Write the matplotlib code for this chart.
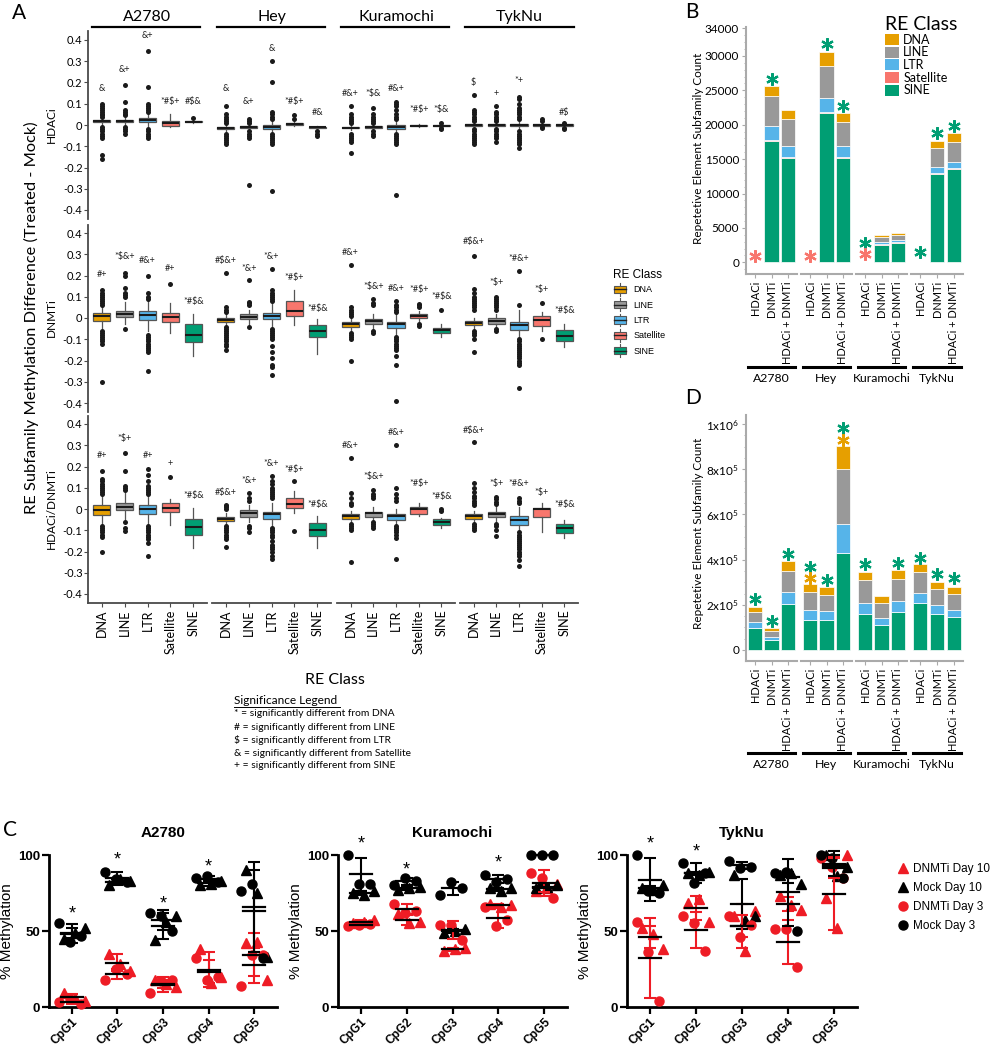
import numpy as np
import matplotlib
matplotlib.use('Agg')
import matplotlib.pyplot as plt
import matplotlib.transforms as mtrans
from matplotlib.patches import Patch, Rectangle
from matplotlib.lines import Line2D
from matplotlib.legend_handler import HandlerBase
from matplotlib.ticker import MultipleLocator

plt.rcParams['font.family'] = ['Lato', 'DejaVu Sans']
plt.rcParams['mathtext.default'] = 'regular'

# ---------------- shared labels ----------------
cell_lines = ['A2780', 'Hey', 'Kuramochi', 'TykNu']
re_classes = ['DNA', 'LINE', 'LTR', 'Satellite', 'SINE']
re_colors = ['#E69F00', '#999999', '#56B4E9', '#F8766D', '#009E73']
row_names = ['HDACi', 'DNMTi', 'HDACi/DNMTi']

# ---------------- panel A: box stats [cell line][RE class] ----------------
# HDACi row
hd_med = [[.018, .02, .022, .01, .015], [-.015, -.01, -.01, .005, -.01],
          [-.012, -.01, -.01, -.004, -.004], [0, 0, 0, 0, 0]]
hd_q1 = [[.012, .015, .012, -.005, .012], [-.02, -.013, -.018, .002, -.012],
         [-.016, -.013, -.018, -.007, -.006], [-.004, -.004, -.004, -.003, -.003]]
hd_q3 = [[.025, .025, .032, .02, .018], [-.01, -.007, -.002, .008, -.008],
         [-.008, -.007, -.002, -.001, -.002], [.004, .004, .004, .003, .003]]
hd_lo = [[0, .005, -.005, -.01, .01], [-.03, -.02, -.03, -.005, -.018],
         [-.025, -.02, -.03, -.01, -.01], [-.01, -.01, -.015, -.008, -.008]]
hd_hi = [[.035, .035, .05, .05, .025], [0, 0, .015, .015, -.003],
         [0, 0, .015, .005, .002], [.01, .01, .015, .008, .008]]
hd_out = [
    [[.1, .09, .08, .07, .06, .05, .045, .04, -.01, -.02, -.03, -.04, -.05, -.06, -.14, -.16],
     [.19, .11, .07, .06, .05, .045, -.01, -.02, -.03, -.04],
     [.35, .18, .1, .09, .08, .07, .06, -.02, -.03, -.04, -.05, -.06],
     [],
     [.035]],
    [[.09, .05, .04, .03, .02, .01, -.04, -.05, -.06, -.07, -.08, -.09],
     [.03, .02, .01, -.03, -.04, -.05, -.06, -.28],
     [.3, .2, .06, .05, .04, .03, -.04, -.05, -.06, -.07, -.08, -.09, -.31],
     [.045, .03],
     [-.03, -.04, -.05]],
    [[.09, .05, .04, .03, .02, .01, -.04, -.05, -.06, -.07, -.08, -.13],
     [.08, .05, .04, .03, .02, .01, -.03, -.04, -.05],
     [.11, .1, .09, .07, .05, .04, .03, -.04, -.05, -.06, -.07, -.08, -.09, -.33],
     [],
     [.01, -.015, -.02]],
    [[.14, .07, .06, .05, .04, .03, .02, -.02, -.03, -.04, -.05, -.06, -.07, -.08, -.09],
     [.09, .06, .05, .04, .03, .02, -.02, -.03, -.04, -.05, -.06, -.08],
     [.13, .12, .1, .08, .07, .06, .05, .04, .03, -.03, -.04, -.05, -.06, -.07, -.08, -.09, -.11],
     [.03, .02, -.01, -.015],
     [.01, -.015, -.02]],
]
hd_sig = [['&', '&+', '&+', '*#$+', '#$&'], ['&', '&+', '&', '*#$+', '#&'],
          ['#&+', '*$&', '#&+', '*#$+', '*$&'], ['$', '+', '*+', '', '#$']]
hd_sig_y = [[.17, .26, .42, .11, .11], [.17, .11, .36, .11, .06],
            [.15, .15, .17, .075, .075], [.2, .15, .21, 0, .06]]

# DNMTi row
dn_med = [[.01, .02, .015, .005, -.08], [-.01, .005, .01, .035, -.06],
          [-.03, -.015, -.03, .01, -.055], [-.025, -.012, -.035, -.01, -.085]]
dn_q1 = [[-.012, .005, -.01, -.02, -.115], [-.02, -.005, -.005, .01, -.09],
         [-.042, -.03, -.045, 0, -.07], [-.035, -.027, -.058, -.037, -.108]]
dn_q3 = [[.024, .035, .035, .025, -.03], [0, .02, .025, .08, -.035],
         [-.019, -.006, -.019, .02, -.045], [-.014, 0, -.017, .01, -.058]]
dn_lo = [[-.045, -.03, -.06, -.07, -.18], [-.035, -.03, -.045, -.035, -.17],
         [-.06, -.05, -.08, -.015, -.09], [-.05, -.04, -.09, -.06, -.135]]
dn_hi = [[.05, .075, .085, .07, .02], [.02, .04, .07, .13, -.005],
         [0, .02, .02, .035, -.03], [0, .02, .04, .03, -.03]]
dn_out = [
    [[.13, .12, .11, .1, .09, .08, .07, .06, -.06, -.07, -.08, -.09, -.1, -.11, -.12, -.3],
     [.21, .2, .14, .12, .11, .1, -.05],
     [.2, .12, .1, .09, -.08, -.09, -.1, -.11, -.12, -.13, -.14, -.15, -.16, -.25],
     [.16],
     []],
    [[.21, .05, .04, .03, -.04, -.05, -.06, -.07, -.08, -.09, -.1, -.11, -.12, -.13, -.15],
     [.18, .075, .07, .06, -.04],
     [.23, .13, .12, .11, .1, .09, .08, -.05, -.06, -.07, -.08, -.09, -.1, -.13, -.16, -.19, -.22, -.23, -.27],
     [],
     []],
    [[.25, .05, .04, .03, .02, .01, -.07, -.08, -.09, -.1, -.2],
     [.09, .07, .06, -.06, -.07],
     [.08, .06, .05, .04, .03, -.09, -.1, -.11, -.12, -.13, -.14, -.15, -.18, -.22, -.39],
     [.065, .06, .05, -.03, -.037],
     [.04]],
    [[.29, .135, .12, .1, .09, .08, .07, .06, .05, .04, -.06, -.07, -.08, -.1, -.16],
     [.1, .09, .08, .07, .06, .05, .04, -.05, -.06],
     [.22, .06, -.1, -.11, -.12, -.13, -.14, -.15, -.16, -.17, -.18, -.19, -.2, -.21, -.22, -.33],
     [.072, -.1],
     []],
]
dn_sig = [['#+', '*$&+', '#&+', '#+', '*#$&'], ['#$&+', '*&+', '*&+', '*#$+', '*#$&'],
          ['#&+', '*$&+', '#&+', '*#$+', '*#$&'], ['#$&+', '*$+', '*#&+', '*$+', '*#$&']]
dn_sig_y = [[.205, .29, .27, .235, .077], [.27, .235, .29, .19, .045],
            [.31, .15, .14, .135, .1], [.36, .165, .28, .135, .033]]

# HDACi/DNMTi row
co_med = [[-.005, .01, 0, .005, -.085], [-.045, -.02, -.025, .025, -.1],
          [-.035, -.02, -.035, -.002, -.06], [-.035, -.025, -.05, -.002, -.09]]
co_q1 = [[-.028, -.005, -.025, -.015, -.121], [-.058, -.038, -.048, .003, -.127],
         [-.048, -.036, -.05, -.024, -.075], [-.048, -.038, -.075, -.036, -.115]]
co_q3 = [[.02, .027, .02, .027, -.047], [-.036, -.005, -.012, .05, -.068],
         [-.025, -.013, -.025, .008, -.048], [-.025, -.012, -.033, .006, -.07]]
co_lo = [[-.07, -.045, -.07, -.075, -.185], [-.07, -.06, -.08, -.02, -.185],
         [-.06, -.05, -.07, -.035, -.09], [-.06, -.055, -.1, -.107, -.135]]
co_hi = [[.06, .075, .06, .045, .005], [-.02, .02, .03, .085, -.035],
         [-.01, .01, 0, .03, -.04], [-.01, .01, .01, .03, -.05]]
co_out = [
    [[.18, .14, .13, .12, .11, .1, .09, .08, .07, -.08, -.09, -.1, -.11, -.12, -.13, -.2],
     [.265, .18, .11, .1, .09, -.06, -.09, -.105],
     [.19, .16, .13, .11, .1, .09, .08, .07, -.08, -.09, -.1, -.11, -.12, -.13, -.14, -.16, -.22],
     [.15],
     []],
    [[.02, .015, .01, 0, -.08, -.09, -.1, -.11, -.12, -.13, -.14, -.18],
     [.075, .05, .04, -.08, -.09, -.11],
     [.155, .13, .12, .1, .09, .08, .07, .06, .05, -.09, -.1, -.11, -.12, -.13, -.15, -.17, -.18, -.19, -.2, -.22, -.235],
     [.13, -.105],
     []],
    [[.24, .077, .05, .03, .02, -.07, -.08, -.09, -.1, -.25],
     [.09, .07, .06, .05, -.06, -.07, -.08, -.09],
     [.3, .1, .07, .05, .04, -.08, -.09, -.1, -.11, -.12, -.137, -.235],
     [],
     [0, -.01]],
    [[.317, .124, .1, .08, .06, .05, .04, .03, .02, -.07, -.08, -.09, -.1],
     [.058, .045, .035, .025, -.07, -.08, -.1, -.126],
     [.05, .04, .03, -.11, -.12, -.13, -.14, -.15, -.16, -.17, -.18, -.19, -.2, -.21, -.22, -.24, -.27],
     [],
     []],
]
co_sig = [['#+', '*$+', '#+', '+', '*#$&'], ['#$&+', '*&+', '*&+', '*#$+', '*#$&'],
          ['#&+', '*$&+', '#&+', '*#$+', '*#$&'], ['#$&+', '*$+', '*#&+', '*$+', '*#$&']]
co_sig_y = [[.25, .333, .25, .215, .062], [.08, .133, .216, .187, .02],
            [.3, .152, .36, .12, .058], [.37, .12, .12, .08, .02]]

# ---------------- panels B and D: subfamily counts (cell line x treatment) ----------------
treatments = ['HDACi', 'DNMTi', 'HDACi + DNMTi']
b_sine = [60, 17600, 15100, 40, 21650, 15200, 60, 2550, 2850, 50, 12850, 13580]
b_sat = [0, 150, 150, 0, 140, 140, 0, 50, 50, 0, 80, 80]
b_ltr = [0, 2100, 1700, 0, 2130, 1560, 0, 300, 340, 0, 870, 870]
b_line = [0, 4270, 3880, 0, 4650, 3440, 0, 730, 730, 0, 2760, 2900]
b_dna = [0, 1540, 1310, 0, 2030, 1400, 0, 340, 300, 0, 1070, 1310]
b_star_bar = [0, 1, 3, 4, 5, 6, 6, 9, 10, 11]
b_star_y = [900, 26700, 900, 31800, 22700, 2800, 1200, 1500, 18800, 19800]
b_star_cls = ['Satellite', 'SINE', 'Satellite', 'SINE', 'SINE', 'SINE', 'Satellite', 'SINE', 'SINE', 'SINE']

d_sine = [98000, 44000, 203000, 133000, 133000, 428000, 159000, 110000, 167000, 209000, 159000, 147000]
d_sat = [1000, 500, 2000, 1000, 1000, 3000, 1000, 1000, 1000, 1000, 1000, 1000]
d_ltr = [26000, 15000, 51000, 41000, 37000, 128000, 50000, 32000, 50000, 42000, 37000, 30000]
d_line = [44000, 26000, 95000, 81000, 74000, 244000, 98000, 64000, 97000, 91000, 72000, 69000]
d_dna = [22000, 11000, 42000, 37000, 33000, 100000, 39000, 30000, 40000, 38000, 31000, 30000]
d_star_bar = [0, 1, 2, 3, 3, 4, 5, 5, 6, 8, 9, 10, 11]
d_star_y = [225000, 130000, 425000, 369000, 320000, 310000, 981000, 929000, 380000, 383000, 408000, 336000, 317000]
d_star_cls = ['SINE', 'SINE', 'SINE', 'SINE', 'DNA', 'SINE', 'SINE', 'DNA', 'SINE', 'SINE', 'SINE', 'SINE', 'SINE']

# ---------------- panel C: % methylation, [CpG1..CpG5][replicate] ----------------
cpg_sites = ['CpG1', 'CpG2', 'CpG3', 'CpG4', 'CpG5']
a2780_dnmti_d10 = [[9, 6, 4], [35, 28, 24], [18, 15, 13], [38, 16, 20], [42, 43, 18]]
a2780_mock_d10 = [[45, 49, 52], [80, 84, 83], [44, 56, 60], [80, 81, 83], [90, 75, 33]]
a2780_dnmti_d3 = [[3, 5, 2], [18, 25, 22], [9, 17, 18], [32, 18, 20], [14, 34, 34]]
a2780_mock_d3 = [[55, 43, 47], [89, 84, 82], [62, 60, 50], [85, 86, 82], [76, 81, 32]]
kura_dnmti_d10 = [[55, 56, 57], [61, 55, 56], [37, 38, 39], [68, 66, 67], [76, 78, 81]]
kura_mock_d10 = [[75, 74, 76], [77, 78, 79], [49, 50, 51], [78, 76, 78], [78, 79, 80]]
kura_dnmti_d3 = [[53, 54, 54.5], [68, 62, 63], [54, 54, 44], [66, 53, 57], [88, 85, 72]]
kura_mock_d3 = [[100, 81, 81], [80, 85, 83], [74, 82, 78], [87, 82, 84], [100, 100, 100]]
tyk_dnmti_d10 = [[52, 48, 38], [68.5, 71, 56], [60, 37, 63], [73, 67, 64], [72, 52, 100]]
tyk_mock_d10 = [[78, 77, 80], [88, 87, 89], [87, 57, 60], [87, 88, 81], [100, 86, 92]]
tyk_dnmti_d3 = [[56, 36, 4], [60, 55, 37], [60, 46, 54], [51, 51, 26], [98, 92, 85]]
tyk_mock_d3 = [[100, 76, 75], [94.6, 81.5, 88], [96, 91.7, 92.4], [88, 88.5, 50], [100, 98, 85]]
a2780_star_y = [61, 97, 68, 92, None]
kura_star_y = [107, 90, None, 95, None]
tyk_star_y = [107, 102, None, None, None]

# ---------------- figure helpers ----------------
W, H = 991, 1049
fig = plt.figure(figsize=(W / 100, H / 100), dpi=100)


def add_ax(x0, y0, x1, y1):
    return fig.add_axes([x0 / W, 1 - y1 / H, (x1 - x0) / W, (y1 - y0) / H])


def ftext(x, y, s, **kw):
    fig.text(x / W, 1 - y / H, s, **kw)


def fline(x0, x1, y, **kw):
    fig.add_artist(Line2D([x0 / W, x1 / W], [1 - y / H, 1 - y / H], transform=fig.transFigure, **kw))


# ---------------- panel A ----------------
a_cols = [(88, 207), (212, 331), (337, 455), (460, 578)]
a_rows = [(31.5, 218.5), (224.5, 411.5), (415.5, 602.5)]
a_strip = [(92, 200), (217, 325), (341, 449), (465, 574)]
rows_data = [
    (hd_med, hd_q1, hd_q3, hd_lo, hd_hi, hd_out, hd_sig, hd_sig_y),
    (dn_med, dn_q1, dn_q3, dn_lo, dn_hi, dn_out, dn_sig, dn_sig_y),
    (co_med, co_q1, co_q3, co_lo, co_hi, co_out, co_sig, co_sig_y),
]
grey = '#4a4a4a'
for r, (med, q1, q3, lo, hi, out, sig, sig_y) in enumerate(rows_data):
    for c in range(4):
        ax = add_ax(a_cols[c][0], a_rows[r][0], a_cols[c][1], a_rows[r][1])
        stats = []
        for k in range(5):
            stats.append(dict(med=med[c][k], q1=q1[c][k], q3=q3[c][k],
                              whislo=lo[c][k], whishi=hi[c][k], fliers=out[c][k]))
        bp = ax.bxp(stats, positions=range(1, 6), widths=0.75, patch_artist=True, showcaps=False,
                    boxprops=dict(edgecolor='#555555', linewidth=0.9),
                    medianprops=dict(color='#1a1a1a', linewidth=1.5),
                    whiskerprops=dict(color='#555555', linewidth=0.9),
                    flierprops=dict(marker='o', markerfacecolor='#1a1a1a', markeredgecolor='none',
                                    markersize=3.6))
        for patch, col in zip(bp['boxes'], re_colors):
            patch.set_facecolor(col)
        for k in range(5):
            if sig[c][k]:
                ax.text(k + 1, sig_y[c][k], sig[c][k], ha='center', va='center',
                        fontsize=6.5, color='#222222')
        ax.set_xlim(0.4, 5.6)
        ax.set_ylim(-0.44, 0.44)
        for s in ['top', 'right']:
            ax.spines[s].set_visible(False)
        ax.spines['left'].set_visible(c == 0)
        ax.spines['bottom'].set_visible(r == 2)
        for s in ['left', 'bottom']:
            ax.spines[s].set_color(grey)
            ax.spines[s].set_linewidth(1.3)
        ax.set_yticks(np.arange(-4, 5) / 10)
        ax.set_yticklabels(['-0.4', '-0.3', '-0.2', '-0.1', '0', '0.1', '0.2', '0.3', '0.4'])
        ax.tick_params(axis='y', length=3, color=grey, labelsize=8, pad=1,
                       left=(c == 0), labelleft=(c == 0))
        ax.set_xticks(range(1, 6))
        if r == 2:
            ax.set_xticklabels(re_classes, rotation=90, fontsize=9)
            ax.tick_params(axis='x', length=3, color=grey, pad=2)
        else:
            ax.tick_params(axis='x', bottom=False, labelbottom=False)
        ax.patch.set_alpha(0)

for c in range(4):
    ftext(sum(a_cols[c]) / 2, 17, cell_lines[c], ha='center', va='center', fontsize=11.5)
    fline(a_strip[c][0], a_strip[c][1], 27.5, color='black', lw=1.6)

for r in range(3):
    ftext(51, sum(a_rows[r]) / 2, row_names[r], rotation=90, ha='center', va='center', fontsize=8.5)
ftext(31, 318, 'RE Subfamily Methylation Difference (Treated - Mock)', rotation=90,
      ha='center', va='center', fontsize=11.8)
ftext(335, 680, 'RE Class', ha='center', va='center', fontsize=11.5)

ftext(12, 13, 'A', ha='left', va='center', fontsize=15)

# significance legend
ftext(234, 700, 'Significance Legend', ha='left', va='center', fontsize=8.6)
fline(234, 340, 706.5, color='black', lw=0.7)
sig_lines = ['* = significantly different from DNA', '# = significantly different from LINE',
             '$ = significantly different from LTR', '& = significantly different from Satellite',
             '+ = significantly different from SINE']
for i, s in enumerate(sig_lines):
    ftext(234, 714 + 13 * i, s, ha='left', va='center', fontsize=7.4)


class BoxKey(HandlerBase):
    def create_artists(self, legend, orig, xd, yd, w, h, fs, trans):
        x0 = -xd + w * 0.12
        bw = w * 0.76
        y0 = -yd + h * 0.22
        bh = h * 0.56
        cx = -xd + w / 2
        arts = [Line2D([cx, cx], [-yd, -yd + h], color='#555555', lw=0.8),
                Rectangle((x0, y0), bw, bh, facecolor=orig.get_facecolor(),
                          edgecolor='#555555', lw=0.8),
                Line2D([x0, x0 + bw], [y0 + bh / 2] * 2, color='#222222', lw=1.0)]
        for a in arts:
            a.set_transform(trans)
        return arts


fig.legend(handles=[Patch(facecolor=col) for col in re_colors], labels=re_classes,
           handler_map={Patch: BoxKey()}, title='RE Class', loc='upper left',
           bbox_to_anchor=(608 / W, 1 - 264 / H), frameon=False,
           prop={'family': 'Liberation Sans', 'size': 6.5},
           title_fontproperties={'family': 'Liberation Sans', 'size': 8.5},
           handlelength=1.7, handleheight=1.8, labelspacing=0.28, handletextpad=0.6,
           alignment='left', borderpad=0)

# ---------------- panels B and D ----------------
bd_cols = [(746, 797), (801, 852), (856, 907), (911, 963)]
axis_grey = '#aaaaaa'


def stacked_panel(y0, y1, sine, sat, ltr, line, dna, ylim, yticks, ylabels, minor,
                  star_bar, star_y, star_cls, line_y, label_y, ylab_y):
    layers = [(sine, 'SINE'), (sat, 'Satellite'), (ltr, 'LTR'), (line, 'LINE'), (dna, 'DNA')]
    for g in range(4):
        ax = add_ax(bd_cols[g][0], y0, bd_cols[g][1], y1)
        idx = slice(3 * g, 3 * g + 3)
        bottom = np.zeros(3)
        for vals, name in layers:
            v = np.array(vals[idx], dtype=float)
            ax.bar(np.arange(3), v, 0.86, bottom=bottom, color=re_colors[re_classes.index(name)],
                   edgecolor='white', linewidth=0.5)
            bottom += v
        for b, yv, cls in zip(star_bar, star_y, star_cls):
            if 3 * g <= b < 3 * g + 3:
                ax.plot(b - 3 * g, yv, ls='none', marker=(6, 2, 0), markersize=9, mew=1.6,
                        color=re_colors[re_classes.index(cls)], clip_on=False)
        ax.set_xlim(-0.55, 2.55)
        ax.set_ylim(*ylim)
        for s in ['top', 'right']:
            ax.spines[s].set_visible(False)
        ax.spines['left'].set_visible(g == 0)
        for s in ['left', 'bottom']:
            ax.spines[s].set_color(axis_grey)
            ax.spines[s].set_linewidth(1.5)
        ax.set_yticks(yticks)
        ax.set_yticklabels(ylabels)
        ax.yaxis.set_minor_locator(MultipleLocator(minor))
        ax.tick_params(axis='y', which='major', length=3, color=axis_grey, labelsize=8.5, pad=2,
                       left=(g == 0), labelleft=(g == 0))
        ax.tick_params(axis='y', which='minor', length=1.5, color=axis_grey, left=(g == 0))
        ax.set_xticks(range(3))
        ax.set_xticklabels(treatments, rotation=90, fontsize=7.9)
        ax.tick_params(axis='x', length=3, color=axis_grey, pad=2)
        ax.patch.set_alpha(0)
        tr = mtrans.blended_transform_factory(ax.transData, fig.transFigure)
        ax.plot([-0.45, 2.45], [1 - line_y / H] * 2, color='black', lw=2.2, transform=tr, clip_on=False)
        ax.text(1, 1 - label_y / H, cell_lines[g], ha='center', va='center', fontsize=8.8, transform=tr)
    ftext(698, ylab_y, 'Repetetive Element Subfamily Count', rotation=90, ha='center',
          va='center', fontsize=8.5)


stacked_panel(27, 274, b_sine, b_sat, b_ltr, b_line, b_dna, (-1700, 34200),
              [0, 5000, 10000, 15000, 20000, 25000, 30000, 34000],
              ['0', '5000', '10000', '15000', '20000', '25000', '30000', '34000'], 1000,
              b_star_bar, b_star_y, b_star_cls, 367, 379, 148)
stacked_panel(415, 661, d_sine, d_sat, d_ltr, d_line, d_dna, (-48700, 1.04e6),
              [0, 2e5, 4e5, 6e5, 8e5, 1e6],
              ['0', '$2x10^5$', '$4x10^5$', '$6x10^5$', '$8x10^5$', '$1x10^6$'], 50000,
              d_star_bar, d_star_y, d_star_cls, 753, 765, 533)

fig.legend(handles=[Patch(facecolor=col, edgecolor='none') for col in re_colors], labels=re_classes,
           title='RE Class', loc='upper left', bbox_to_anchor=(879 / W, 1 - 10 / H), frameon=False,
           fontsize=9, title_fontsize=14, handlelength=1.1, handleheight=1.0, labelspacing=0.05,
           handletextpad=0.35, alignment='left', borderpad=0)
ftext(685, 12, 'B', ha='left', va='center', fontsize=15)
ftext(685, 398, 'D', ha='left', va='center', fontsize=15)

# ---------------- panel C ----------------
red = '#EE1C25'
c_cols = [(49, 277), (338, 567), (627, 857)]
c_titles = ['A2780', 'Kuramochi', 'TykNu']
c_data = [
    (a2780_dnmti_d10, a2780_mock_d10, a2780_dnmti_d3, a2780_mock_d3, a2780_star_y),
    (kura_dnmti_d10, kura_mock_d10, kura_dnmti_d3, kura_mock_d3, kura_star_y),
    (tyk_dnmti_d10, tyk_mock_d10, tyk_dnmti_d3, tyk_mock_d3, tyk_star_y),
]
tri_offsets = np.array([-0.18, 0.06, 0.28])
circ_offsets = np.array([-0.28, -0.04, 0.2])
cfont = 'Liberation Sans'
for i, (dn10, mk10, dn3, mk3, stars) in enumerate(c_data):
    ax = add_ax(c_cols[i][0], 855, c_cols[i][1], 1007)
    groups = [(dn10, red, '^', tri_offsets), (mk10, 'black', '^', tri_offsets),
              (dn3, red, 'o', circ_offsets), (mk3, 'black', 'o', circ_offsets)]
    for vals, col, mk, offs in groups:
        for j in range(5):
            ax.plot(j + 1 + offs, vals[j], ls='none', marker=mk, color=col, markersize=6.5,
                    clip_on=False, zorder=3)
    for vals, col, mk, offs in groups:
        for j in range(5):
            m = np.mean(vals[j])
            sd = np.std(vals[j], ddof=1)
            ax.errorbar(j + 1, m, yerr=sd, color=col, capsize=4.5, capthick=1.5, elinewidth=1.5,
                        zorder=4, clip_on=False)
            ax.plot([j + 1 - 0.24, j + 1 + 0.24], [m, m], color='black', lw=1.6, zorder=5,
                    clip_on=False)
    for j, sy in enumerate(stars):
        if sy is not None:
            ax.text(j + 1, sy, '*', ha='center', va='center', fontsize=13, family=cfont)
    ax.set_xlim(0.5, 5.5)
    ax.set_ylim(0, 100)
    for s in ['top', 'right']:
        ax.spines[s].set_visible(False)
    for s in ['left', 'bottom']:
        ax.spines[s].set_linewidth(2)
    ax.set_yticks([0, 50, 100])
    ax.set_yticklabels(['0', '50', '100'], fontweight='bold', fontsize=9.5, family=cfont)
    ax.set_xticks(range(1, 6))
    ax.set_xticklabels(cpg_sites, rotation=45, ha='right', rotation_mode='anchor',
                       fontweight='bold', fontsize=8.6, family=cfont)
    ax.tick_params(length=5, width=1.6, pad=1.5)
    ax.set_ylabel('% Methylation', fontsize=11, family=cfont, labelpad=3)
    ax.patch.set_alpha(0)
    ftext(sum(c_cols[i]) / 2, 833, c_titles[i], ha='center', va='center',
          fontsize=11, fontweight='bold', family=cfont)

ftext(3, 830, 'C', ha='left', va='center', fontsize=15)
fig.legend(handles=[Line2D([], [], ls='none', marker='^', color=red, markersize=6.5),
                    Line2D([], [], ls='none', marker='^', color='black', markersize=6.5),
                    Line2D([], [], ls='none', marker='o', color=red, markersize=6.5),
                    Line2D([], [], ls='none', marker='o', color='black', markersize=6.5)],
           labels=['DNMTi Day 10', 'Mock Day 10', 'DNMTi Day 3', 'Mock Day 3'],
           loc='upper left', bbox_to_anchor=(892 / W, 1 - 857 / H), frameon=False,
           prop={'family': cfont, 'size': 8.5}, handlelength=0.9, handletextpad=0.35,
           labelspacing=0.6, borderpad=0)

fig.savefig('out.png', dpi=100)
